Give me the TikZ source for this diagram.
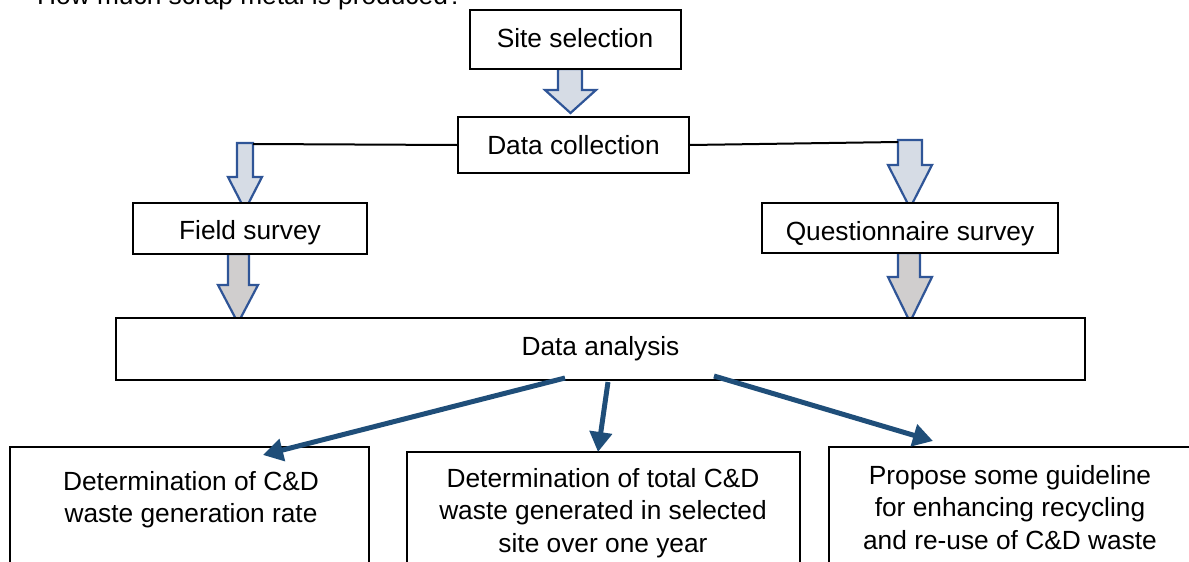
\documentclass[tikz,border=0pt]{standalone}
\usepackage{fontspec}
\setmainfont{Liberation Sans}
\usetikzlibrary{arrows.meta}
\definecolor{arrowblue}{HTML}{2F5597}
\definecolor{lightfill}{HTML}{D6DCE5}
\definecolor{greyfill}{HTML}{D0CECE}
\definecolor{darkarrow}{HTML}{1F4E79}
\newcommand\blockarrow[8]{%
  \draw[barrow,fill=#1] (#2,#4) -- (#2,#5) -- (#6,#5) -- ({(#6+#7)/2},#8) -- (#7,#5) -- (#3,#5) -- (#3,#4) -- cycle;}
\begin{document}
\begin{tikzpicture}[x=1pt,y=-1pt,
  box/.style={draw=black,line width=2pt,fill=white,inner sep=0pt},
  lbl/.style={font=\fontsize{26.3}{32.5}\selectfont,align=center,inner sep=0pt},
  barrow/.style={draw=arrowblue,line width=2.2pt,line join=miter},
  link/.style={draw=black,line width=2pt},
  thick arrow/.style={draw=darkarrow,line width=5pt,-{Triangle[length=20pt,width=22pt]}}]
\useasboundingbox (0,0) rectangle (1189,562);
\clip (0,0) rectangle (1189,562);
\node[lbl,anchor=base west] (q) at (37,4.5) {How much scrap metal is produced?};
% block arrows (under boxes)
\blockarrow{lightfill}{558}{582}{69}{90}{545}{596}{113}
\blockarrow{lightfill}{237}{253}{143}{177}{228}{262}{210}
\blockarrow{greyfill}{228}{249}{254}{285}{218}{258}{323}
\blockarrow{lightfill}{898}{922}{140}{165}{888}{932}{208}
\blockarrow{greyfill}{898}{920}{253}{277}{888}{932}{322}
% boxes
\node[box,minimum width=211pt,minimum height=59pt] (site) at (575,39.5) {};
\node[lbl] (sitet) at (575,38.5) {Site selection};
\node[box,minimum width=231pt,minimum height=56pt,lbl] (dc) at (573.5,145) {Data collection};
\node[box,minimum width=234pt,minimum height=51pt] (field) at (250,228.5) {};
\node[lbl] (fieldt) at (250,232.5) {Field survey};
\node[box,minimum width=296pt,minimum height=50pt] (quest) at (910,228) {};
\node[lbl] (questt) at (910,233.5) {Questionnaire survey};
\node[box,minimum width=969pt,minimum height=62pt,lbl] (da) at (600.5,349) {Data analysis};
\node[box,minimum width=359pt,minimum height=130pt] (b1) at (189.5,512) {};
\node[box,minimum width=393pt,minimum height=130pt] (b2) at (603.5,517) {};
\node[box,minimum width=380pt,minimum height=130pt] (b3) at (1019,512) {};
\node[lbl,anchor=north] (t1) at (191,471) {Determination of C\&D\\waste generation rate};
\node[lbl,anchor=north] (t2) at (603,468) {Determination of total C\&D\\waste generated in selected\\site over one year};
\node[lbl,anchor=north] (t3) at (1010,465) {Propose some guideline\\for enhancing recycling\\and re-use of C\&D waste};
% connector lines from data collection
\coordinate (lt) at (253,144);
\coordinate (rt) at (898,142);
\draw[link] (dc.west) -- (lt);
\draw[link] (dc.east) -- (rt);
% thick arrows
\coordinate (s1) at (565,378);
\coordinate (e1) at (263,455);
\coordinate (s2) at (608,382);
\coordinate (e2) at (598,452);
\coordinate (s3) at (714,376);
\coordinate (e3) at (933,441);
\draw[thick arrow] (s1) -- (e1);
\draw[thick arrow] (s2) -- (e2);
\draw[thick arrow] (s3) -- (e3);
\end{tikzpicture}
\end{document}
